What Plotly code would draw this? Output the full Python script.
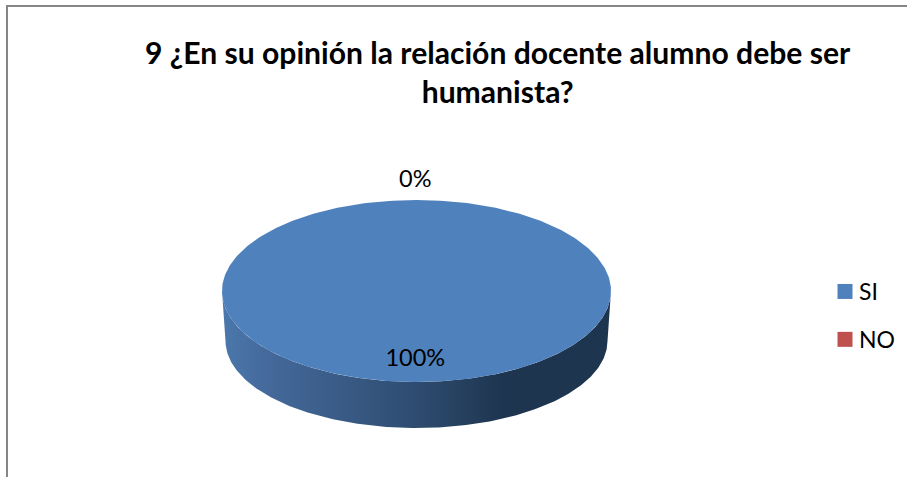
import numpy as np
import plotly.graph_objects as go

# Data
title_text = "9 ¿En su opinión la relación docente alumno debe ser<br>humanista?"
categories = ["SI", "NO"]
values = [100, 0]
colors = ["#4F81BD", "#C0504D"]

W, H = 907, 477
CX, CY, RX, RY = 416.5, 291.0, 194.5, 91.0
BX, BY, BRX, BRY = 416.5, 341.0, 191.0, 87.0
LABEL_R = [0.76, 1.21]
GRAD = [[0, "#4B78AD"], [0.12, "#44699A"], [0.5, "#2E4C70"], [0.72, "#1E3550"], [1, "#1E3550"]]

total = sum(values)
fig = go.Figure()

# extruded side, only the front half of the pie
u = np.linspace(0, np.pi, 241)
side_x = np.concatenate([CX - RX * np.cos(u), (BX - BRX * np.cos(u))[::-1]])
side_y = np.concatenate([CY + RY * np.sin(u), (BY + BRY * np.sin(u))[::-1]])
fig.add_trace(go.Scatter(x=side_x, y=side_y, mode="lines", fill="toself", line=dict(width=0),
                         fillgradient=dict(type="horizontal", colorscale=GRAD, start=BX - BRX - 4, stop=BX + BRX + 4),
                         showlegend=False, hoverinfo="skip"))

start = 0.0
label_x, label_y, label_t = [], [], []
for name, v, c, lr in zip(categories, values, colors, LABEL_R):
    sweep = 2 * np.pi * v / total
    if v > 0:
        a = np.linspace(start, start + sweep, 361)
        wx = CX + RX * np.sin(a)
        wy = CY - RY * np.cos(a)
        fig.add_trace(go.Scatter(x=wx, y=wy, mode="lines", fill="toself", fillcolor=c,
                                 line=dict(width=0), showlegend=False, hoverinfo="skip"))
    mid = start + sweep / 2
    label_x.append(CX + lr * RX * np.sin(mid) - 1.2)
    label_y.append(CY - lr * RY * np.cos(mid))
    label_t.append(f"{round(100 * v / total)}%")
    start += sweep

fig.add_trace(go.Scatter(x=label_x, y=label_y, mode="text", text=label_t, textposition="middle center",
                         textfont=dict(family="Lato", size=23.5, color="#000000"),
                         showlegend=False, hoverinfo="skip"))

for name, c in zip(categories, colors):
    fig.add_trace(go.Scatter(x=[None], y=[None], mode="markers", name=name, legendgroup=name,
                             marker=dict(symbol="square", size=15, color=c)))

fig.update_layout(
    width=W, height=H, autosize=False,
    margin=dict(l=0, r=0, t=0, b=0),
    paper_bgcolor="white", plot_bgcolor="white",
    xaxis=dict(range=[0, W], visible=False, fixedrange=True),
    yaxis=dict(range=[H, 0], visible=False, fixedrange=True),
    annotations=[dict(text=title_text, xref="paper", yref="paper", x=497.5 / W, y=1 - 72 / H,
                      showarrow=False, xanchor="center", yanchor="middle", align="center",
                      font=dict(family="Lato", size=30.1, color="#000000", weight="bold"))],
    legend=dict(x=819 / W, y=1 - 270 / H, xanchor="left", yanchor="top", tracegroupgap=15,
                bgcolor="rgba(0,0,0,0)", font=dict(family="Lato", size=23, color="#000000")),
    shapes=[dict(type="line", xref="x", yref="y", x0=7, x1=7, y0=6, y1=477, line=dict(color="#868686", width=2)),
            dict(type="line", xref="x", yref="y", x0=6, x1=907, y0=6, y1=6, line=dict(color="#868686", width=2))],
)
fig.write_html("out.html", config=dict(displayModeBar=False),
               post_script=("document.body.style.margin='0';document.documentElement.style.overflow='hidden';"
                            "document.querySelectorAll('.legendsymbols').forEach(function(g){g.setAttribute('transform','translate(6,0)');});"))
